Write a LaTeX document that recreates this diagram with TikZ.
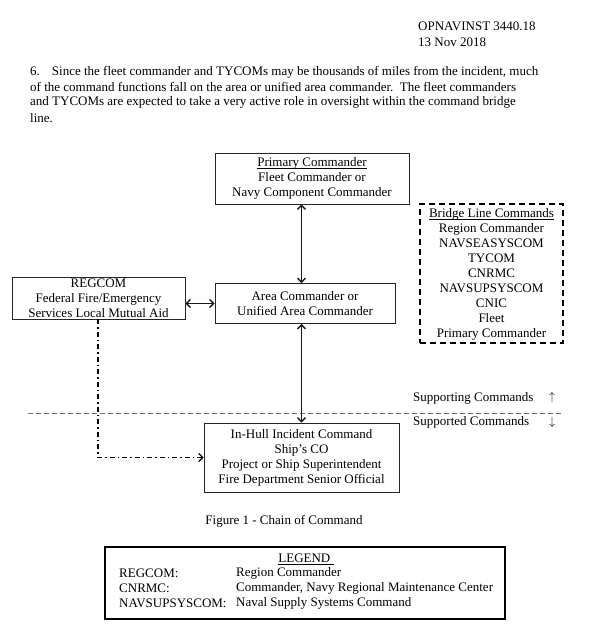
\documentclass[tikz,border=0pt]{standalone}
\usepackage{fontspec}
\setmainfont{Liberation Serif}
\usetikzlibrary{arrows.meta}
\newcommand\myul[1]{\setbox0\hbox{#1}\rlap{\rule[-2.2pt]{\wd0}{0.6pt}}\box0}
\begin{document}
\begin{tikzpicture}[x=1pt,y=-1pt,
  every node/.style={font=\fontsize{13}{15}\selectfont, inner sep=0pt},
  txt/.style={anchor=west},
  box/.style={draw=black!85, line width=0.9pt, align=center},
  dbl/.style={{Straight Barb[length=4pt,width=8pt,line width=1.4pt]}-{Straight Barb[length=4pt,width=8pt,line width=1.4pt]}, line width=1.8pt, black!90},
  dashdot/.style={line width=1.2pt, dash pattern=on 5pt off 3pt on 1.5pt off 3pt, -{Straight Barb[length=4pt,width=8pt]}},
  sep/.style={dash pattern=on 5pt off 3pt, line width=1pt, black!55},
  bridge/.style={draw, line width=1.4pt, dash pattern=on 6pt off 4pt}
]
\useasboundingbox (0,0) rectangle (597,640);
\fill[white] (0,0) rectangle (597,640);

% header
\node[txt] (h1) at (418,26) {OPNAVINST 3440.18};
\node[txt] (h2) at (418,42) {13 Nov 2018};

% paragraph
\node[txt] (p1) at (30,72) {6.\hspace{12pt}Since the fleet commander and TYCOMs may be thousands of miles from the incident, much};
\node[txt] (p2) at (30,87) {of the command functions fall on the area or unified area commander.\ \ The fleet commanders};
\node[txt] (p3) at (30,102) {and TYCOMs are expected to take a very active role in oversight within the command bridge};
\node[txt] (p4) at (30,118) {line.};

% boxes
\node[box, minimum width=194pt, minimum height=51pt] (prim) at (312,178.5)
  {\myul{Primary Commander}\\Fleet Commander or\\Navy Component Commander};
\node[box, minimum width=180pt, minimum height=40pt] (area) at (305,303.5)
  {Area Commander or\\Unified Area Commander};
\node[box, minimum width=173pt, minimum height=42pt] (reg) at (98.5,298)
  {REGCOM\\Federal Fire/Emergency\\Services Local Mutual Aid};
\node[box, minimum width=195pt, minimum height=69pt] (hull) at (301.5,457.5)
  {In-Hull Incident Command\\Ship's CO\\Project or Ship Superintendent\\Fire Department Senior Official};
\node[bridge, minimum width=143pt, minimum height=139pt] (bridge) at (491.5,273.5) {};
\node[align=center] (bridgetxt) at (491.5,274.5)
  {\myul{Bridge Line Commands}\\Region Commander\\NAVSEASYSCOM\\TYCOM\\CNRMC\\NAVSUPSYSCOM\\CNIC\\Fleet\\Primary Commander};

% separator
\coordinate (sepL) at (28,413);
\coordinate (sepR) at (563,413);
\draw[sep] (sepL) -- (sepR);

% connectors
\draw[dbl] (prim.south -| hull.north) -- (area.north -| hull.north);
\draw[dbl] (area.south -| hull.north) -- (hull.north);
\draw[dbl] (reg.east |- area.west) -- (area.west);
\coordinate (ddx) at (98,0);
\draw[dashdot] (ddx |- reg.south) |- (hull.west);

% supporting labels
\node[txt] (sup1) at (413,398) {Supporting Commands};
\node (up) at (552,397) {$\uparrow$};
\node[txt] (sup2) at (413,422) {Supported Commands};
\node (down) at (552,422) {$\downarrow$};

% caption
\node (cap) at (284,521) {Figure 1 - Chain of Command};

% legend
\draw[line width=1.4pt] (105,547) rectangle (505,619);
\node (lg) at (306,559) {\myul{LEGEND\ }};
\node[txt] (l1a) at (119,573) {REGCOM:};
\node[txt] (l1b) at (236,573) {Region Commander};
\node[txt] (l2a) at (119,588.5) {CNRMC:};
\node[txt] (l2b) at (236,588.5) {Commander, Navy Regional Maintenance Center};
\node[txt] (l3a) at (119,603) {NAVSUPSYSCOM:};
\node[txt] (l3b) at (236,603) {Naval Supply Systems Command};
\end{tikzpicture}
\end{document}
